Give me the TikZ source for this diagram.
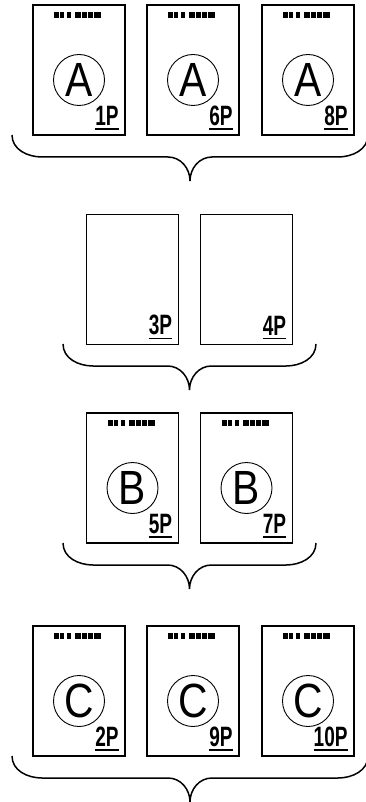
\documentclass[tikz,border=0pt]{standalone}
\usepackage{fontspec}
\setmainfont{Liberation Sans}
\usetikzlibrary{positioning,calc}

% bars along the top edge of a page
\newcommand{\barcode}[1]{%
  \foreach \s/\w in {0/5,6/4,13/4,21/6,28/5,34/5,40/7}
    \fill ($(#1.north west)+(22+\s,8)$) rectangle ++(\w,6);
}
% brace under a row: left end, centre, top
\newcommand{\rowbrace}[3]{%
  \draw[brace line] (#1,#3) to[out=-90,in=180] (#1+30,#3+22)
    -- (#2-22,#3+22) to[out=0,in=90] (#2,#3+46)
    to[out=90,in=180] (#2+22,#3+22) -- (2*#2-#1-30,#3+22)
    to[out=0,in=-90] (2*#2-#1,#3);
}

\begin{document}
\begin{tikzpicture}[x=1pt,y=-1pt,
  page/.style={draw,line width=1.6pt,minimum width=92pt,minimum height=130pt,inner sep=0pt},
  sign/.style={circle,draw,line width=0.9pt,minimum size=51pt,inner sep=0pt,
    font=\fontsize{48}{48}\selectfont},
  plabel/.style={inner sep=0pt,anchor=south east,font=\fontsize{28}{28}\selectfont\bfseries},
  brace line/.style={line width=1.5pt}]
  \useasboundingbox (0,0) rectangle (365,802);

  % row A
  \foreach \n/\x/\p in {a1/79/1P,a6/193/6P,a8/308/8P} {
    \node[page] (\n) at (\x,70) {};
    \barcode{\n}
    \node[sign] (\n-s) at ($(\n.center)+(0,10)$) {\scalebox{0.85}[1]{A}};
    \node[plabel] (\n-l) at ($(\n.south east)+(-7,-10)$) {\scalebox{0.68}[1]{\p}};
    \draw[line width=1.5pt] ($(\n-l.south west)+(0,3)$) -- ($(\n-l.south east)+(0,3)$);
  }
  \rowbrace{12}{190}{135}

  % blank pages
  \foreach \n/\x/\p in {n3/132.5/3P,n4/246.5/4P} {
    \node[page] (\n) at (\x,279.5) {};
    \node[plabel] (\n-l) at ($(\n.south east)+(-7,-10)$) {\scalebox{0.68}[1]{\p}};
    \draw[line width=1.5pt] ($(\n-l.south west)+(0,3)$) -- ($(\n-l.south east)+(0,3)$);
  }
  \rowbrace{63}{189.5}{344}

  % row B
  \foreach \n/\x/\p in {b5/132.5/5P,b7/246.5/7P} {
    \node[page] (\n) at (\x,478) {};
    \barcode{\n}
    \node[sign] (\n-s) at ($(\n.center)+(0,10)$) {\scalebox{0.85}[1]{B}};
    \node[plabel] (\n-l) at ($(\n.south east)+(-7,-10)$) {\scalebox{0.68}[1]{\p}};
    \draw[line width=1.5pt] ($(\n-l.south west)+(0,3)$) -- ($(\n-l.south east)+(0,3)$);
  }
  \rowbrace{63}{189.5}{543}

  % row C
  \foreach \n/\x/\p in {c2/79/2P,c9/193/9P,c10/308/10P} {
    \node[page] (\n) at (\x,691) {};
    \barcode{\n}
    \node[sign] (\n-s) at ($(\n.center)+(0,10)$) {\scalebox{0.85}[1]{C}};
    \node[plabel] (\n-l) at ($(\n.south east)+(-7,-10)$) {\scalebox{0.68}[1]{\p}};
    \draw[line width=1.5pt] ($(\n-l.south west)+(0,3)$) -- ($(\n-l.south east)+(0,3)$);
  }
  \rowbrace{12}{190}{756}
\end{tikzpicture}
\end{document}
